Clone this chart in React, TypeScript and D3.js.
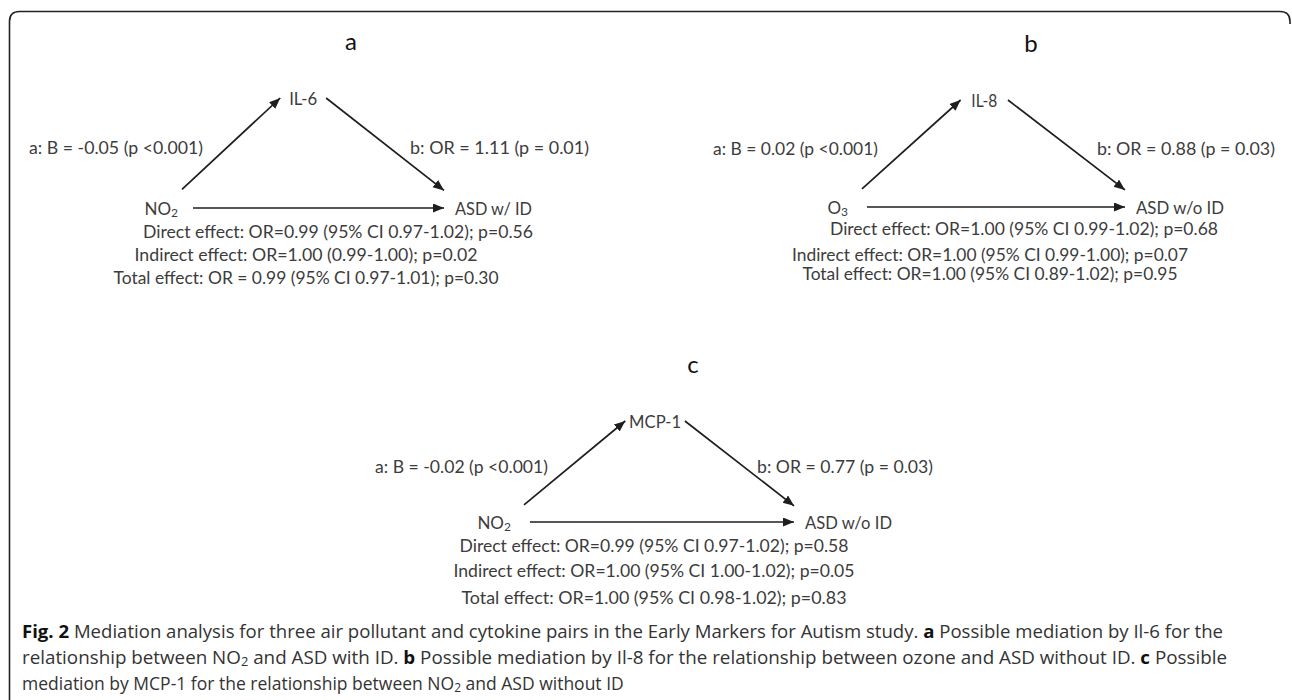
import { scaleLinear, line } from "d3";

// panel content
const panelLetters = ["a", "b", "c"];
const exposureBase = ["NO", "O", "NO"];
const exposureSub = ["2", "3", "2"];
const mediators = ["IL-6", "IL-8", "MCP-1"];
const outcomes = ["ASD w/ ID", "ASD w/o ID", "ASD w/o ID"];
const aPaths = ["a: B = -0.05 (p <0.001)", "a: B = 0.02 (p <0.001)", "a: B = -0.02 (p <0.001)"];
const bPaths = ["b: OR = 1.11  (p = 0.01)", "b: OR = 0.88  (p = 0.03)", "b: OR = 0.77  (p = 0.03)"];
const directEffects = [
  "Direct effect: OR=0.99 (95% CI 0.97-1.02); p=0.56",
  "Direct effect: OR=1.00 (95% CI 0.99-1.02); p=0.68",
  "Direct effect: OR=0.99 (95% CI 0.97-1.02); p=0.58",
];
const indirectEffects = [
  "Indirect effect: OR=1.00 (0.99-1.00); p=0.02",
  "Indirect effect: OR=1.00 (95% CI 0.99-1.00); p=0.07",
  "Indirect effect: OR=1.00 (95% CI 1.00-1.02); p=0.05",
];
const totalEffects = [
  "Total effect: OR = 0.99 (95% CI 0.97-1.01); p=0.30",
  "Total effect: OR=1.00 (95% CI 0.89-1.02); p=0.95",
  "Total effect: OR=1.00 (95% CI 0.98-1.02); p=0.83",
];

// layout of each panel (pixels)
const frames = [
  { x0: 182, x1: 444, yTop: 98, yBot: 208 },
  { x0: 862, x1: 1125, yTop: 100, yBot: 207 },
  { x0: 524, x1: 794, yTop: 421, yBot: 522 },
];
const bStartFrac = [0.55, 0.555, 0.596];
const cStartFrac = [0.042, 0.019, 0.022];
const xLabelGap = [15, 19, 19];
const aLabelDx = [21, 16, 24];
const bLabelDx = [228, 235, 233];
const pathLabelW = [[174, 179], [165, 178], [173, 176]];
const mediatorW = [28, 26, 52];
const outcomeW = [77, 88, 87];
const effectDx = [[156, 124, 124], [162, 128, 128], [130, 130, 130]];
const effectDy = [[23, 46, 69], [21, 47, 66], [23, 48, 75]];
const effectW = [[390, 343, 385], [388, 396, 375], [389, 401, 385]];

const W = 1292;
const H = 700;
const ink = "#1e1e1e";
const textCol = "#3c3c3c";
const diagFont = "Lato, 'Open Sans', sans-serif";
const capFont = "'Open Sans', 'Noto Sans', sans-serif";

const Panel = ({ i }: { i: number }) => {
  const f = frames[i];
  const sx = scaleLinear().domain([0, 1]).range([f.x0, f.x1]);
  const sy = scaleLinear().domain([0, 1]).range([f.yTop, f.yBot]);
  const path = line<number[]>().x(d => sx(d[0])).y(d => sy(d[1]));

  const aArrow = [[0, 0.83], [0.375, 0]];
  const bArrow = [[bStartFrac[i], 0], [1, 0.84]];
  const cArrow = [[cStartFrac[i], 1], [1, 1]];
  const medX = (sx(0.375) + sx(bStartFrac[i])) / 2;
  const labelY = sy(0.45);
  const effects = [directEffects[i], indirectEffects[i], totalEffects[i]];

  return (
    <g>
      <text x={f.x0 + 169} y={f.yTop - 58} fontSize={24} fill="#111" textAnchor="middle"
        dominantBaseline="central" fontFamily={diagFont}>{panelLetters[i]}</text>

      {[aArrow, bArrow, cArrow].map((pts, k) => (
        <path key={k} d={path(pts) || ""} stroke={ink} strokeWidth={1.7} fill="none" markerEnd="url(#head)" />
      ))}

      <g fontFamily={diagFont} fontSize={17} fill={textCol} dominantBaseline="central" style={{ whiteSpace: "pre" }}>
        <text x={medX} y={f.yTop} textAnchor="middle"
          textLength={mediatorW[i]} lengthAdjust="spacingAndGlyphs">{mediators[i]}</text>
        <text x={sx(cStartFrac[i]) - xLabelGap[i]} y={f.yBot} textAnchor="end">
          {exposureBase[i]}<tspan fontSize={12} dy={4}>{exposureSub[i]}</tspan>
        </text>
        <text x={sx(1) + 11} y={f.yBot}
          textLength={outcomeW[i]} lengthAdjust="spacingAndGlyphs">{outcomes[i]}</text>
        <text x={f.x0 + aLabelDx[i]} y={labelY} textAnchor="end"
          textLength={pathLabelW[i][0]} lengthAdjust="spacingAndGlyphs">{aPaths[i]}</text>
        <text x={f.x0 + bLabelDx[i]} y={labelY}
          textLength={pathLabelW[i][1]} lengthAdjust="spacingAndGlyphs">{bPaths[i]}</text>
        {effects.map((t, k) => (
          <text key={k} x={f.x0 + effectDx[i][k]} y={f.yBot + effectDy[i][k]} textAnchor="middle"
            textLength={effectW[i][k]} lengthAdjust="spacingAndGlyphs">{t}</text>
        ))}
      </g>
    </g>
  );
};

const App = () => {
  const r = 10;
  const border = `M9.5,${H} L9.5,${11.5 + r} Q9.5,11.5 ${9.5 + r},11.5 L${1290 - r},11.5 Q1290,11.5 1290,${11.5 + r} L1290,24`;
  return (
    <svg width={W} height={H} style={{ position: "absolute", left: 0, top: 0, background: "#fff" }}>
      <defs>
        <marker id="head" markerUnits="userSpaceOnUse" markerWidth={12} markerHeight={10}
          refX={11} refY={4.5} orient="auto">
          <path d="M0,0 L11,4.5 L0,9 Z" fill={ink} />
        </marker>
      </defs>
      <path d={border} fill="none" stroke="#222" strokeWidth={1.6} />
      {frames.map((_, i) => <Panel key={i} i={i} />)}

      <g fontFamily={capFont} fontSize={17.5} fill="#333" dominantBaseline="central">
        <text x={22} y={631} textLength={1201} lengthAdjust="spacingAndGlyphs">
          <tspan fontWeight="bold" fill="#111">Fig. 2</tspan> Mediation analysis for three air pollutant and cytokine pairs in the Early Markers for Autism study. <tspan fontWeight="bold" fill="#111">a</tspan> Possible mediation by Il-6 for the
        </text>
        <text x={22} y={657} textLength={1205} lengthAdjust="spacingAndGlyphs">
          relationship between NO<tspan fontSize={12} dy={4}>2</tspan><tspan dy={-4}> and ASD with ID. </tspan><tspan fontWeight="bold" fill="#111">b</tspan> Possible mediation by Il-8 for the relationship between ozone and ASD without ID. <tspan fontWeight="bold" fill="#111">c</tspan> Possible
        </text>
        <text x={22} y={683}>
          mediation by MCP-1 for the relationship between NO<tspan fontSize={12} dy={4}>2</tspan><tspan dy={-4}> and ASD without ID</tspan>
        </text>
      </g>
    </svg>
  );
};

export default App;
